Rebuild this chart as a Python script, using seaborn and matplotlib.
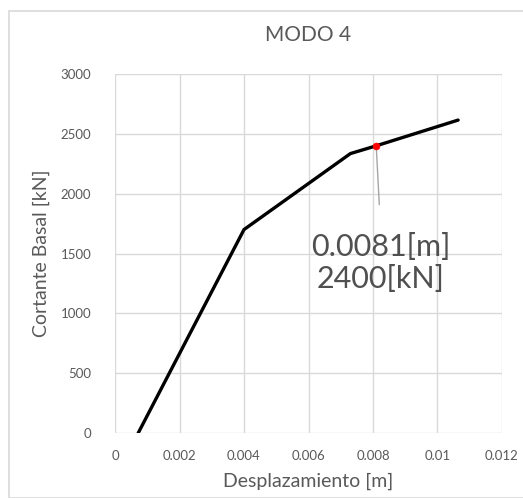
import matplotlib
matplotlib.use("Agg")
import matplotlib.pyplot as plt
import seaborn as sns
import pandas as pd
from matplotlib.patches import Rectangle

desplazamiento = [0.00072, 0.0040, 0.0073, 0.0081, 0.01064]
cortante = [0, 1700, 2335, 2400, 2615]
punto_x = [0.0081]
punto_y = [2400]
x_ticks = [0, 0.002, 0.004, 0.006, 0.008, 0.01, 0.012]
x_tick_labels = ["0", "0.002", "0.004", "0.006", "0.008", "0.01", "0.012"]
y_ticks = [0, 500, 1000, 1500, 2000, 2500, 3000]
y_tick_labels = ["0", "500", "1000", "1500", "2000", "2500", "3000"]

sns.set_theme(style="white")
plt.rcParams['font.family'] = ['Lato', 'DejaVu Sans']

df = pd.DataFrame({"x": desplazamiento, "y": cortante})
dfp = pd.DataFrame({"x": punto_x, "y": punto_y})

fig = plt.figure(figsize=(5.23, 4.98), dpi=100)
fig.patches.append(Rectangle((9/523, 0), 1, 1 - 11/498, transform=fig.transFigure,
                             fill=False, edgecolor="#d9d9d9", linewidth=1.2, zorder=0))
ax = fig.add_axes([115/523, 1 - 433/498, (502-115)/523, (433-74)/498])

grid_c = "#d9d9d9"
text_c = "#595959"

sns.lineplot(data=df, x="x", y="y", ax=ax, color="black", linewidth=2.4, sort=False, zorder=3)
sns.scatterplot(data=dfp, x="x", y="y", ax=ax, color="red", s=25, edgecolor="red", zorder=4)

ax.set_xlim(0, 0.012)
ax.set_ylim(0, 3000)
ax.set_xticks(x_ticks)
ax.set_xticklabels(x_tick_labels)
ax.set_yticks(y_ticks)
ax.set_yticklabels(y_tick_labels)
ax.grid(True, color=grid_c, linewidth=1.0)
ax.set_axisbelow(True)
for s in ax.spines.values():
    s.set_visible(False)
ax.tick_params(axis="both", colors=text_c, labelsize=9.5, length=0, pad=12)
ax.tick_params(axis="y", pad=17)

ax.set_xlabel("Desplazamiento [m]", fontsize=14, color=text_c, labelpad=8)
ax.set_ylabel("Cortante Basal [kN]", fontsize=14, color=text_c, labelpad=8)
ax.set_title("MODO 4", fontsize=15, color=text_c, pad=24)

ax.annotate("", xy=(punto_x[0], punto_y[0]), xytext=(0.0082, 1885),
            arrowprops=dict(arrowstyle="-", color="#a6a6a6", lw=1.0))
ax.text(0.00823, 1420, f"{punto_x[0]}[m]\n{punto_y[0]}[kN]", fontsize=22,
        color="#505050", ha="center", va="center", linespacing=1.2)

fig.savefig("out.png", dpi=100)
